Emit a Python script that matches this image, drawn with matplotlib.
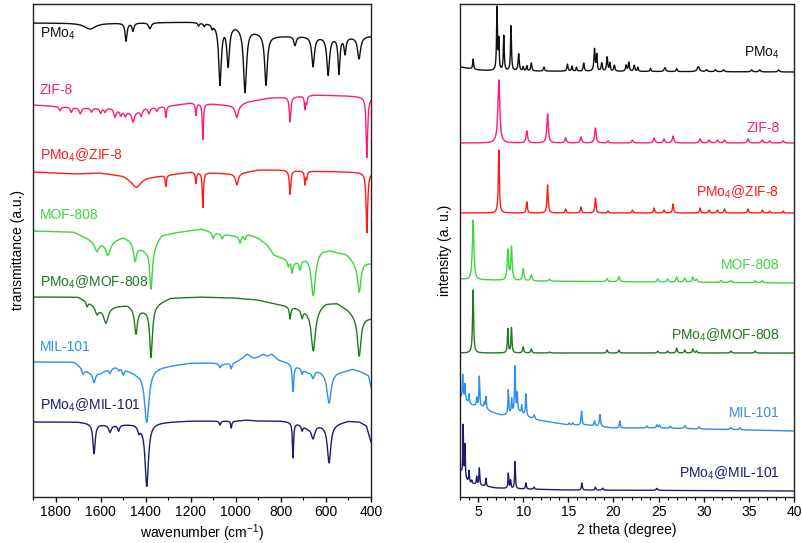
import numpy as np
import matplotlib
matplotlib.use("Agg")
import matplotlib.pyplot as plt
from matplotlib.ticker import MultipleLocator

plt.rcParams['font.family'] = ['Liberation Sans', 'DejaVu Sans']
plt.rcParams['mathtext.fontset'] = 'custom'
plt.rcParams['mathtext.rm'] = 'Liberation Sans'
plt.rcParams['mathtext.it'] = 'Liberation Sans:italic'

# ---------------- data (vertical values: arbitrary stacked units) ----------------
names = ["PMo$_4$", "ZIF-8", "PMo$_4$@ZIF-8", "MOF-808", "PMo$_4$@MOF-808", "MIL-101", "PMo$_4$@MIL-101"]
colors = ["#111111", "#FF1A7A", "#FF1A1A", "#3DD63D", "#1F7A1F", "#2A8FEF", "#1C1C6E"]

# FTIR: baseline knots (wavenumber, level) and absorption dips (centre, depth, width)
ir_base_wn = [
    [1900, 1700, 1550, 1200, 1100, 1000, 900, 850, 700, 500, 400],
    [1900, 1750, 1650, 1550, 1500, 1450, 1400, 1300, 1200, 1100, 1000, 950, 850, 750, 650, 500, 430, 400],
    [1900, 1700, 1600, 1500, 1450, 1400, 1300, 1200, 1000, 900, 800, 700, 500, 400],
    [1900, 1720, 1660, 1620, 1540, 1500, 1470, 1430, 1400, 1360, 1330, 1250, 1150, 1110, 1000, 960, 900, 860, 830, 790, 740, 700, 620, 580, 552, 508, 470, 430, 400],
    [1900, 1700, 1650, 1600, 1540, 1480, 1440, 1400, 1340, 1290, 1150, 1000, 900, 820, 770, 720, 680, 640, 600, 550, 500, 460, 400],
    [1900, 1720, 1690, 1650, 1600, 1560, 1520, 1480, 1440, 1420, 1360, 1300, 1200, 1100, 1050, 1000, 970, 950, 920, 900, 880, 860, 840, 810, 780, 760, 720, 680, 640, 600, 560, 520, 480, 440, 410, 400],
    [1900, 1700, 1660, 1560, 1450, 1420, 1360, 1300, 1200, 1100, 1000, 950, 900, 800, 760, 720, 680, 640, 600, 560, 500, 450, 420, 400],
]
ir_base_lvl = [
    [474, 474, 474, 475, 474, 472, 465, 461, 461, 460, 461],
    [392, 390, 389, 389, 386, 384, 389, 391, 394, 393, 391, 395, 399, 400, 402, 401, 400, 399],
    [325, 323, 324, 321, 315, 319, 322, 325, 323, 327, 327, 326, 325, 324],
    [266, 265, 259, 254, 257, 260, 257, 250, 247, 252, 262, 265, 268, 265, 261, 264, 259, 252, 242, 239, 235, 239, 247, 247, 245, 243, 235, 235, 234],
    [200, 200, 195, 190, 191, 192, 187, 187, 194, 199, 200, 199, 197, 193, 191, 189, 187, 189, 194, 194, 187, 179, 179],
    [135, 135, 131, 125, 124, 129, 131, 127, 124, 125, 129, 131, 134, 134, 133, 135, 139, 143, 139, 140, 143, 141, 143, 137, 135, 134, 130, 125, 127, 125, 125, 126, 128, 125, 121, 110],
    [75, 75, 74, 72, 73, 72, 74, 75, 76, 76, 76, 77, 76, 76, 75, 73, 69, 72, 72, 73, 76, 75, 71, 55],
]
ir_dip_c = [
    [1647, 1487, 1456, 1381, 1165, 1140, 1105, 1070, 1034, 959, 866, 737, 657, 590, 542, 515, 453],
    [1780, 1730, 1690, 1640, 1600, 1580, 1536, 1510, 1490, 1456, 1420, 1385, 1350, 1310, 1177, 1146, 995, 759, 693, 685, 418],
    [1438, 1310, 1177, 1146, 995, 759, 693, 685, 418],
    [1616, 1567, 1447, 1376, 1100, 1060, 981, 960, 767, 750, 715, 656, 452],
    [1660, 1616, 1576, 1443, 1376, 759, 706, 656, 452],
    [1678, 1629, 1558, 1520, 1500, 1395, 1070, 1020, 746, 706, 657, 586],
    [1629, 1558, 1520, 1430, 1395, 1070, 1020, 746, 706, 657, 586],
]
ir_dip_d = [
    [6, 18, 8, 6, 3, 3, 4, 60, 40, 64, 50, 9, 30, 38, 36, 16, 22],
    [4, 5, 6, 4, 5, 4, 8, 5, 5, 9, 6, 6, 4, 11, 12, 36, 12, 25, 13, 7, 60],
    [6, 11, 11, 35, 11, 24, 13, 7, 60],
    [8, 14, 17, 42, 6, 5, 8, 6, 6, 11, 9, 42, 30],
    [5, 8, 16, 24, 50, 12, 8, 42, 38],
    [6, 10, 5, 4, 6, 52, 4, 6, 27, 5, 7, 31],
    [30, 7, 6, 6, 62, 4, 7, 35, 5, 12, 38],
]
ir_dip_w = [
    [60, 10, 10, 14, 8, 8, 8, 14, 14, 16, 14, 12, 14, 14, 10, 10, 16],
    [10, 10, 12, 10, 10, 10, 12, 10, 10, 12, 10, 10, 10, 6, 6, 6, 16, 8, 6, 6, 8],
    [40, 6, 6, 6, 14, 8, 6, 6, 8],
    [20, 25, 15, 14, 10, 10, 12, 10, 8, 8, 10, 22, 18],
    [10, 20, 25, 14, 14, 8, 10, 22, 18],
    [15, 14, 12, 10, 10, 24, 10, 8, 8, 8, 14, 22],
    [12, 14, 10, 12, 18, 8, 6, 6, 8, 18, 18],
]

# XRD: baseline knots (2theta, level) and peaks (centre, height, width)
xrd_base_tt = [
    [3, 5, 7, 40],
    [3, 40],
    [3, 40],
    [3, 4, 6, 10, 40],
    [3, 40],
    [3.0, 4.3, 5.5, 6.5, 7.5, 8.0, 9.5, 10.5, 11.5, 13, 15, 17, 20, 25, 30, 40],
    [3.0, 3.5, 4.0, 5, 7, 10, 15, 40],
]
xrd_base_lvl = [
    [430, 427, 426, 425],
    [354, 354],
    [284, 284],
    [218, 217, 217, 216, 214],
    [144, 144],
    [100, 92, 90, 85, 82, 82, 85, 80, 77, 75, 72, 72, 69, 69, 68, 66],
    [27, 19, 14, 12, 9, 8, 7, 6],
]
xrd_pk_c = [
    [4.45, 7.1, 7.3, 7.85, 8.65, 9.5, 10.0, 10.4, 10.9, 12.3, 14.9, 15.4, 15.9, 16.7, 17.9, 18.15, 18.7, 19.3, 19.6, 20.1, 21.4, 21.7, 22.3, 22.7, 24.1, 25.7, 27.0, 29.4, 30.3, 31.3, 32.2, 35.3, 36.2, 38.3],
    [7.3, 10.4, 12.7, 14.7, 16.4, 18.0, 19.4, 22.1, 24.5, 25.6, 26.6, 29.6, 30.6, 31.5, 32.3, 34.9, 36.5, 37.3, 38.8],
    [7.3, 10.4, 12.7, 14.7, 16.4, 18.0, 19.4, 22.1, 24.5, 25.6, 26.6, 29.6, 30.6, 31.5, 32.3, 34.9, 36.5, 37.3, 38.8],
    [4.45, 8.3, 8.7, 10.0, 10.9, 12.9, 19.3, 20.6, 24.9, 26.0, 27.0, 27.9, 28.8, 29.2, 31.9, 33.0, 35.7, 36.5],
    [4.45, 8.3, 8.7, 10.0, 10.9, 12.9, 19.3, 20.6, 24.9, 26.0, 27.0, 27.9, 28.8, 29.2, 33.0, 35.7],
    [3.3, 3.55, 4.0, 4.85, 5.14, 5.7, 5.88, 8.35, 8.72, 9.09, 9.35, 9.83, 10.3, 11.2, 15.1, 15.5, 16.47, 17.9, 18.5, 20.7, 23.7, 24.8, 25.1, 26.3, 27.9, 29.5, 33.0, 34.0],
    [3.35, 3.55, 4.0, 4.3, 4.85, 5.14, 5.88, 8.35, 8.6, 9.09, 10.3, 11.2, 16.5, 18.0, 18.8, 24.8],
]
xrd_pk_h = [
    [10, 63, 29, 35, 45, 17, 4, 5, 8, 4, 7, 5, 4, 8, 22, 16, 8, 14, 8, 6, 6, 9, 6, 4, 3, 4, 3, 5, 2, 2, 2, 2, 2, 2],
    [63, 12, 29, 5, 6, 15, 2, 3, 5, 4, 7, 4, 3, 3, 3, 4, 3, 2, 2],
    [63, 11, 28, 4, 6, 15, 2, 3, 5, 3, 9, 5, 3, 3, 4, 4, 3, 2, 2],
    [60, 30, 33, 12, 6, 2, 3, 5, 3, 3, 5, 4, 5, 3, 2, 2, 2, 2],
    [63, 24, 25, 6, 4, 1, 3, 3, 2, 2, 5, 3, 4, 2, 2, 2],
    [24, 16, 9, 8, 30, 5, 12, 24, 14, 46, 18, 8, 22, 4, 2, 2, 14, 5, 12, 7, 2, 3, 3, 2, 3, 2, 2, 2],
    [50, 33, 12, 3, 8, 17, 8, 15, 8, 27, 6, 2, 7, 3, 2, 2],
]
xrd_pk_w = [
    [0.12, 0.12, 0.1, 0.12, 0.12, 0.15, 0.12, 0.12, 0.15, 0.15, 0.15, 0.12, 0.12, 0.15, 0.15, 0.12, 0.15, 0.15, 0.12, 0.15, 0.15, 0.15, 0.15, 0.12, 0.15, 0.2, 0.15, 0.3, 0.2, 0.2, 0.2, 0.2, 0.2, 0.2],
    [0.25, 0.2, 0.2, 0.2, 0.2, 0.2, 0.2, 0.2, 0.2, 0.2, 0.2, 0.2, 0.2, 0.2, 0.2, 0.2, 0.2, 0.2, 0.2],
    [0.14, 0.15, 0.15, 0.15, 0.15, 0.15, 0.15, 0.15, 0.15, 0.15, 0.15, 0.15, 0.15, 0.15, 0.15, 0.15, 0.15, 0.15, 0.15],
    [0.2, 0.18, 0.18, 0.2, 0.2, 0.2, 0.2, 0.2, 0.2, 0.2, 0.2, 0.2, 0.2, 0.2, 0.2, 0.2, 0.2, 0.2],
    [0.14, 0.12, 0.12, 0.15, 0.15, 0.15, 0.15, 0.15, 0.15, 0.15, 0.15, 0.15, 0.15, 0.15, 0.15, 0.15],
    [0.1, 0.1, 0.1, 0.1, 0.1, 0.1, 0.1, 0.1, 0.1, 0.12, 0.1, 0.1, 0.12, 0.2, 0.15, 0.15, 0.12, 0.12, 0.15, 0.12, 0.15, 0.15, 0.15, 0.15, 0.2, 0.15, 0.2, 0.2],
    [0.08, 0.08, 0.1, 0.1, 0.1, 0.1, 0.1, 0.1, 0.1, 0.1, 0.12, 0.15, 0.12, 0.12, 0.15, 0.2],
]

# label positions (vertical level)
ir_label_lvl = [463, 407, 342, 282, 215, 150, 92]
xrd_label_lvl = [444, 369, 305, 232, 162, 84, 24]

# ---------------- build curves ----------------
def lorentz(x, c, h, w):
    return h / (1.0 + ((x - c) / (w / 2.0)) ** 2)

wn = np.linspace(400, 1900, 4001)
tt = np.linspace(3, 40, 8001)

fig = plt.figure(figsize=(8.03, 5.43), dpi=100)
axL = fig.add_axes([33 / 803, 46 / 543, 338 / 803, 493 / 543])
axR = fig.add_axes([460 / 803, 46 / 543, 334 / 803, 493 / 543])

for i in range(7):
    y = np.interp(wn, ir_base_wn[i][::-1], ir_base_lvl[i][::-1])
    for c, d, w in zip(ir_dip_c[i], ir_dip_d[i], ir_dip_w[i]):
        y = y - lorentz(wn, c, d, w)
    axL.plot(wn, y, color=colors[i], lw=1.0)
    axL.text(1870, ir_label_lvl[i], names[i], color=colors[i], fontsize=10,
             ha='left', va='center')

    yr = np.interp(tt, xrd_base_tt[i], xrd_base_lvl[i])
    for c, h, w in zip(xrd_pk_c[i], xrd_pk_h[i], xrd_pk_w[i]):
        yr = yr + lorentz(tt, c, h, w)
    axR.plot(tt, yr, color=colors[i], lw=1.0)
    axR.text(38.4, xrd_label_lvl[i], names[i], color=colors[i], fontsize=10,
             ha='right', va='center')

axL.set_xlim(1900, 400)
axL.set_ylim(0, 493)
axL.xaxis.set_major_locator(MultipleLocator(200))
axL.xaxis.set_minor_locator(MultipleLocator(100))
axL.set_yticks([])
axL.set_xlabel("wavenumber (cm$^{-1}$)", fontsize=10, labelpad=3)
axL.set_ylabel("transmittance (a.u.)", fontsize=10, labelpad=6)

axR.set_xlim(3, 40)
axR.set_ylim(0, 493)
axR.xaxis.set_major_locator(MultipleLocator(5))
axR.xaxis.set_minor_locator(MultipleLocator(1))
axR.set_yticks([])
axR.set_xlabel("2 theta (degree)", fontsize=10, labelpad=3)
axR.set_ylabel("intensity (a. u.)", fontsize=10, labelpad=6)

for ax in (axL, axR):
    ax.tick_params(axis='x', which='major', direction='out', length=3.5, width=1, labelsize=10, pad=2)
    ax.tick_params(axis='x', which='minor', direction='out', length=2, width=0.8)
    for s in ax.spines.values():
        s.set_linewidth(1.0)
        s.set_color('#222222')

fig.savefig("out.png", dpi=100)
